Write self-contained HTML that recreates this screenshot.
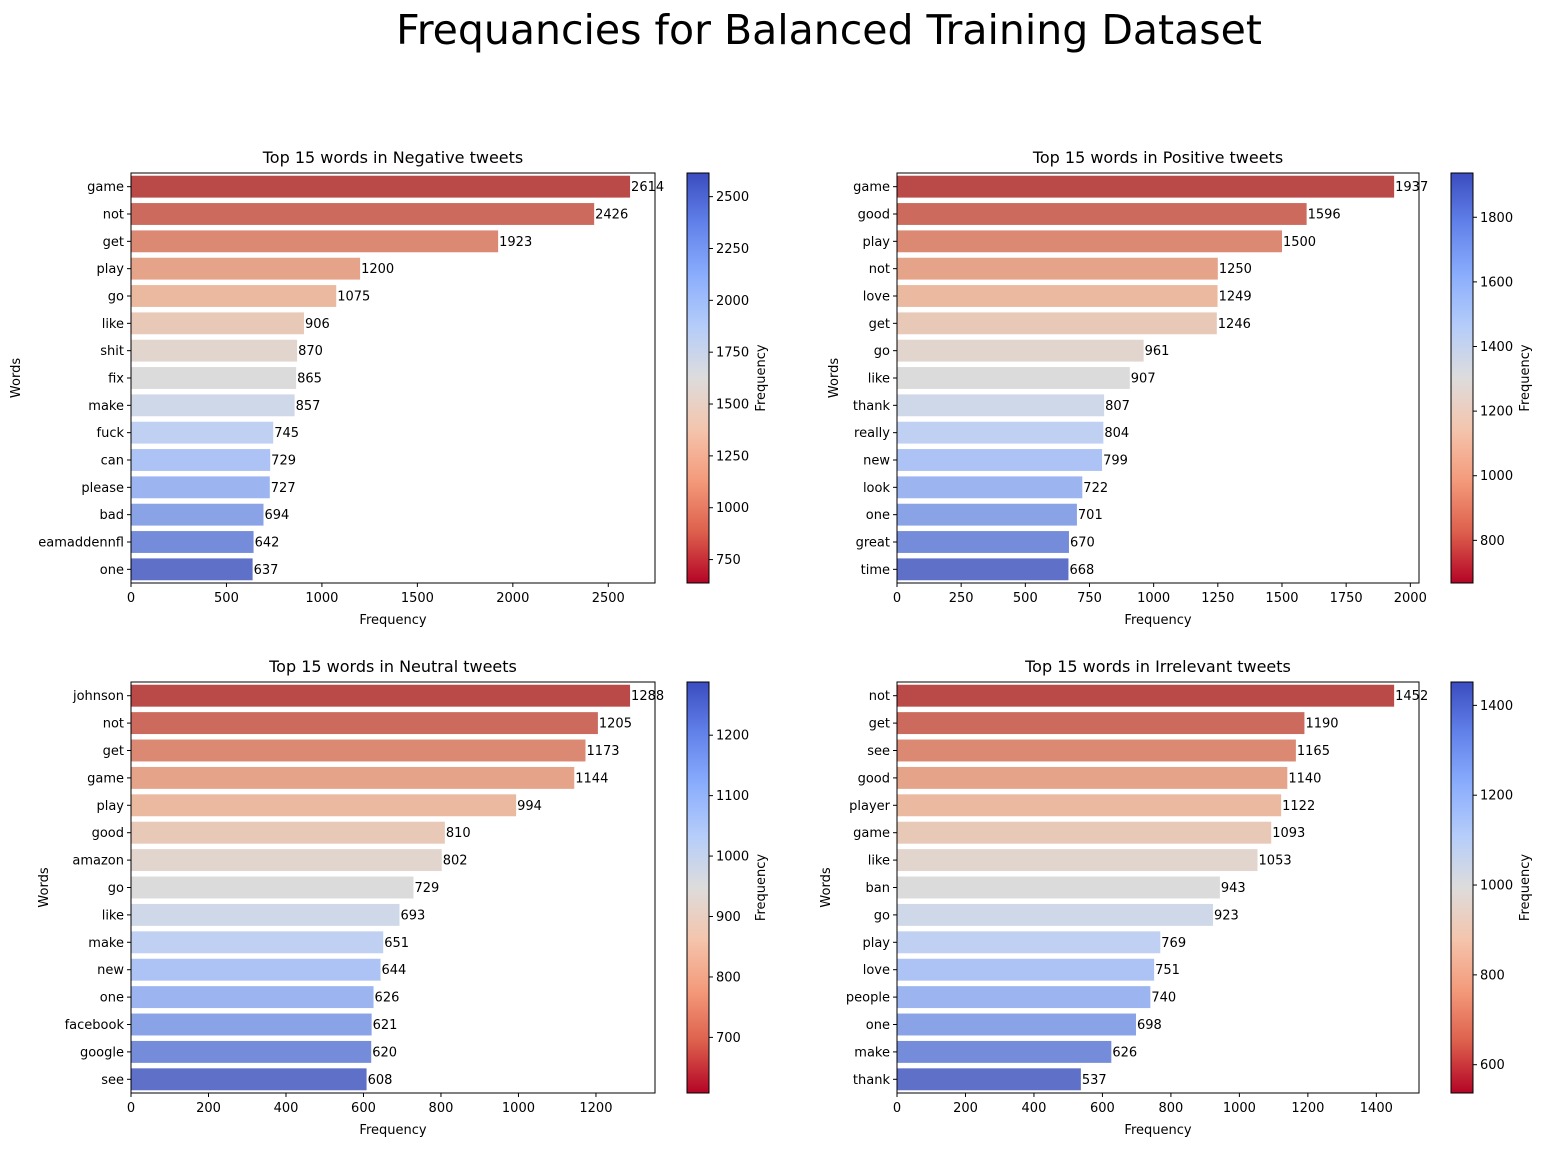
<!DOCTYPE html>
<html><head><meta charset="utf-8"><style>
body{margin:0;background:#fff}
svg text{font-family:"DejaVu Sans","Liberation Sans",sans-serif;fill:#000}
</style></head><body>
<svg id="c" width="1546" height="1146" xmlns="http://www.w3.org/2000/svg">
<defs>
<linearGradient id="cw" x1="0" y1="1" x2="0" y2="0">
<stop offset="0" stop-color="#b40426"/><stop offset="0.125" stop-color="#dd604d"/><stop offset="0.25" stop-color="#f49a7b"/><stop offset="0.375" stop-color="#f4c5ad"/><stop offset="0.5" stop-color="#dddcdc"/><stop offset="0.625" stop-color="#b5cdfa"/><stop offset="0.75" stop-color="#8badfd"/><stop offset="0.875" stop-color="#6282ea"/><stop offset="1" stop-color="#3b4cc0"/>
</linearGradient>
</defs>
<text x="829" y="44" font-size="41" text-anchor="middle">Frequancies for Balanced Training Dataset</text>
</svg>
<script>
const negWords=["game","not","get","play","go","like","shit","fix","make","fuck","can","please","bad","eamaddennfl","one"];
const negVals=[2614,2426,1923,1200,1075,906,870,865,857,745,729,727,694,642,637];
const posWords=["game","good","play","not","love","get","go","like","thank","really","new","look","one","great","time"];
const posVals=[1937,1596,1500,1250,1249,1246,961,907,807,804,799,722,701,670,668];
const neuWords=["johnson","not","get","game","play","good","amazon","go","like","make","new","one","facebook","google","see"];
const neuVals=[1288,1205,1173,1144,994,810,802,729,693,651,644,626,621,620,608];
const irrWords=["not","get","see","good","player","game","like","ban","go","play","love","people","one","make","thank"];
const irrVals=[1452,1190,1165,1140,1122,1093,1053,943,923,769,751,740,698,626,537];
const xTicks1=[0,500,1000,1500,2000,2500];
const xTicks2=[0,250,500,750,1000,1250,1500,1750,2000];
const xTicks3=[0,200,400,600,800,1000,1200];
const xTicks4=[0,200,400,600,800,1000,1200,1400];
const cTicks1=[750,1000,1250,1500,1750,2000,2250,2500];
const cTicks2=[800,1000,1200,1400,1600,1800];
const cTicks3=[700,800,900,1000,1100,1200];
const cTicks4=[600,800,1000,1200,1400];
const barColors=["#b94a48","#cb6a5d","#dc8974","#e5a389","#eab9a0","#e8c8b6","#e2d5ce","#dadbda","#cfd8e8","#c0d0f3","#adc3f5","#9cb5f0","#89a3e6","#748cda","#5e70c7"];
const svg=document.getElementById('c');
const NS='http://www.w3.org/2000/svg';
function mk(tag,attrs,parent,text){const e=document.createElementNS(NS,tag);for(const k in attrs)e.setAttribute(k,attrs[k]);if(text!==undefined)e.textContent=text;(parent||svg).appendChild(e);return e;}
function panel(id,title,words,vals,xTicks,cTicks,L,R,T,B,ylx,cbx){
  const g=mk('g',{});
  
  
  const xmax=Math.max(...vals)*1.05;
  const xs=v=>L+v/xmax*(R-L);
  const slot=(B-T)/words.length;
  words.forEach((w,i)=>{
    const cy=T+slot*(i+0.5);
    const r=mk('rect',{x:L,y:cy-slot*0.4,width:xs(vals[i])-L,height:slot*0.8,fill:barColors[i]},g);
    
    
    const vt=mk('text',{x:xs(vals[i])+1,y:cy+4.5,'font-size':13},g,String(vals[i]));
    
    
    mk('line',{x1:L-4,x2:L,y1:cy,y2:cy,stroke:'#000'},g);
    const yt=mk('text',{x:L-7,y:cy+4.5,'font-size':13,'text-anchor':'end'},g,w);
    
    
  });
  mk('rect',{x:L,y:T,width:R-L,height:B-T,fill:'none',stroke:'#000','stroke-width':1},g);
  xTicks.forEach(t=>{const x=xs(t);mk('line',{x1:x,x2:x,y1:B,y2:B+4,stroke:'#000'},g);
    const tx=mk('text',{x:x,y:B+19,'font-size':13,'text-anchor':'middle'},g,String(t));
    
    });
  const xt=mk('text',{x:(L+R)/2,y:B+41,'font-size':13,'text-anchor':'middle'},g,'Frequency');
  
  
  const yl=mk('text',{x:ylx,y:(T+B)/2,'font-size':13,'text-anchor':'middle',transform:`rotate(-90 ${ylx} ${(T+B)/2})`},g,'Words');
  
  
  const tt=mk('text',{x:(L+R)/2,y:T-10,'font-size':16,'text-anchor':'middle'},g,title);
  
  
  const mn=Math.min(...vals),mx=Math.max(...vals);
  const cw=22;
  const cb=mk('rect',{x:cbx,y:T,width:cw,height:B-T,fill:'url(#cw)',stroke:'#000','stroke-width':1},g);
  
  
  const cs=v=>B-(v-mn)/(mx-mn)*(B-T);
  cTicks.forEach(t=>{const y=cs(t);mk('line',{x1:cbx+cw,x2:cbx+cw+4,y1:y,y2:y,stroke:'#000'},g);
    const ct=mk('text',{x:cbx+cw+7,y:y+4.5,'font-size':13},g,String(t));
    
    });
  const lx=cbx+78;
  const cl=mk('text',{x:lx,y:(T+B)/2,'font-size':13,'text-anchor':'middle',transform:`rotate(-90 ${lx} ${(T+B)/2})`},g,'Frequency');
  
  
}
panel('negative','Top 15 words in Negative tweets',negWords,negVals,xTicks1,cTicks1,131,655,173,583,20,687);
panel('positive','Top 15 words in Positive tweets',posWords,posVals,xTicks2,cTicks2,897,1419,173,583,838,1451);
panel('neutral','Top 15 words in Neutral tweets',neuWords,neuVals,xTicks3,cTicks3,131,655,682,1093,48,687);
panel('irrelevant','Top 15 words in Irrelevant tweets',irrWords,irrVals,xTicks4,cTicks4,897,1419,682,1093,830,1451);
</script>
</body></html>
